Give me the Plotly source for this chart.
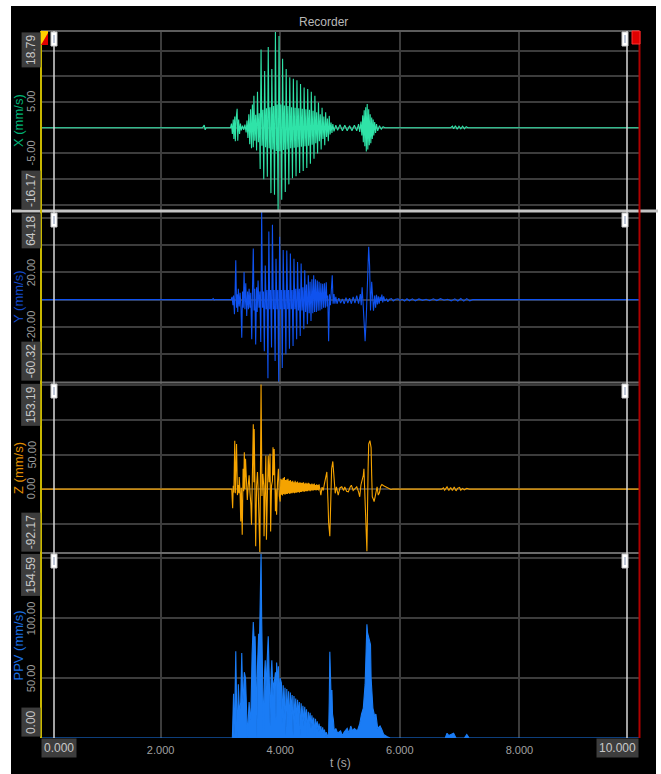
import plotly.graph_objects as go

# ---------------- data ----------------
TITLE = "Recorder"
T_TITLE = "t (s)"
CHANNEL_TITLES = ["X (mm/s)", "Y (mm/s)", "Z (mm/s)", "PPV (mm/s)"]
CHANNEL_RANGES = [[-16.17, 18.79], [-60.32, 64.18], [-92.17, 153.19], [0.0, 154.59]]
CHANNEL_DTICK = [5, 20, 50, 50]
CHANNEL_TICKVALS = [[5, -5], [20, -20], [50, 0], [100, 50]]
CHANNEL_TICKTEXT = [["5.00", "-5.00"], ["20.00", "-20.00"], ["50.00", "0.00"], ["100.00", "50.00"]]
CHANNEL_MAX_TEXT = ["18.79", "64.18", "153.19", "154.59"]
CHANNEL_MIN_TEXT = ["-16.17", "-60.32", "-92.17", "0.00"]
T_TICKVALS = [2, 4, 6, 8]
T_TICKTEXT = ["2.000", "4.000", "6.000", "8.000"]
T_START_TEXT = "0.000"
T_END_TEXT = "10.000"

# X channel velocity extremes: (time s, mm/s)
X_DATA = [
    (0.00, 0), (2.70, 0), (2.73, 0.5), (2.745, -0.4), (2.76, 0), (3.17, 0),
    (3.185, 0.8), (3.20, -1.2), (3.215, 1.6), (3.225, -2.2), (3.24, 2.2), (3.25, -2.6), (3.265, 2.0),
    (3.28, 3.7), (3.29, -2.5), (3.305, 1.6), (3.32, -1.2), (3.335, 0.8), (3.35, -0.5), (3.37, 0.4),
    (3.39, -0.4), (3.41, 0.6), (3.43, -0.9), (3.445, 1.4), (3.46, -2.0), (3.475, 2.6), (3.49, -3.2),
    (3.505, 3.6), (3.52, -4.0), (3.535, 4.5), (3.55, -3.8),
    (3.56, 6.2), (3.575, -2.5), (3.59, 2.5), (3.605, -4.4),
    (3.62, 7.0), (3.635, -2.8), (3.65, 2.8), (3.665, -8.0),
    (3.68, 15.2), (3.695, -3.5), (3.71, 3.5), (3.725, -10.0),
    (3.74, 11.0), (3.755, -3.8), (3.77, 3.8), (3.785, -9.5),
    (3.80, 15.7), (3.815, -4.0), (3.83, 4.0), (3.845, -12.7),
    (3.86, 11.4), (3.875, -4.2), (3.89, 4.2), (3.905, -13.0),
    (3.92, 18.7), (3.935, -4.5), (3.95, 4.5), (3.965, -16.1),
    (3.98, 17.8), (3.995, -4.5), (4.01, 4.5), (4.025, -14.0),
    (4.04, 13.4), (4.055, -4.3), (4.07, 4.3), (4.085, -12.5),
    (4.10, 11.4), (4.115, -4.2), (4.13, 4.2), (4.145, -11.0),
    (4.16, 9.8), (4.175, -4.0), (4.19, 4.0), (4.205, -9.8),
    (4.22, 9.5), (4.235, -3.9), (4.25, 3.9), (4.265, -9.4),
    (4.28, 9.2), (4.295, -3.8), (4.31, 3.8), (4.325, -8.8),
    (4.34, 8.5), (4.355, -3.7), (4.37, 3.7), (4.385, -8.4),
    (4.40, 7.8), (4.415, -3.6), (4.43, 3.6), (4.445, -7.8),
    (4.46, 7.5), (4.475, -3.5), (4.49, 3.5), (4.505, -7.0),
    (4.52, 7.0), (4.535, -3.3), (4.55, 3.3), (4.565, -6.0),
    (4.58, 6.2), (4.595, -3.0), (4.61, 3.0), (4.625, -5.0),
    (4.64, 4.9), (4.655, -2.6), (4.67, 2.6), (4.685, -4.2),
    (4.70, 3.9), (4.715, -2.2), (4.73, 2.2), (4.745, -3.4),
    (4.76, 3.0), (4.775, -1.8), (4.79, 1.8), (4.805, -2.6),
    (4.82, 2.3), (4.835, -1.3), (4.85, 1.0), (4.865, -1.0),
    (4.88, 0.7), (4.90, -0.7), (4.93, 0.5), (4.96, -0.5), (5.00, 0.6), (5.04, -0.6), (5.08, 0.5),
    (5.12, -0.6), (5.16, 0.4), (5.20, -0.6), (5.24, 0.5), (5.28, -0.6), (5.31, 0.7), (5.33, -0.8),
    (5.35, 1.2), (5.365, -1.5), (5.38, 2.4), (5.39, -2.8), (5.405, 3.4), (5.415, -3.6), (5.43, 4.0),
    (5.44, -4.6), (5.455, 4.6), (5.465, -4.2), (5.48, 3.6), (5.49, -3.4), (5.505, 2.6), (5.515, -3.0),
    (5.53, 2.0), (5.54, -2.2), (5.555, 1.6), (5.565, -1.5), (5.58, 1.1), (5.595, -1.0), (5.61, 0.7),
    (5.63, -0.6), (5.66, 0.4), (5.69, -0.3), (5.72, 0.2), (5.75, 0),
    (6.85, 0), (6.88, 0.3), (6.90, -0.2), (6.93, 0.4), (6.96, -0.3), (6.99, 0.3), (7.02, -0.2),
    (7.05, 0.3), (7.08, -0.2), (7.11, 0.2), (7.14, 0), (10.00, 0),
]

# Y channel
Y_DATA = [
    (0.00, 0), (2.86, 0), (2.88, 0.8), (2.895, -0.3), (2.91, 0), (3.18, 0),
    (3.195, 2), (3.21, -4), (3.22, 3), (3.235, -10.6), (3.245, 4), (3.257, 28.9), (3.27, -6),
    (3.28, 4), (3.29, -9), (3.30, 7.9), (3.315, -5), (3.33, 5), (3.345, -7), (3.357, -27.9),
    (3.37, 6), (3.383, -6), (3.396, 20.2), (3.41, -7), (3.424, 12), (3.44, -12), (3.455, 6),
    (3.47, -7), (3.48, 7.9), (3.495, -6), (3.507, 5), (3.524, -29.0), (3.537, 8), (3.55, 37.5),
    (3.563, -8), (3.575, 8), (3.59, -32.8), (3.605, 9), (3.615, -9),
    (3.63, 14), (3.645, -6), (3.66, 6), (3.675, -31),
    (3.69, 64.2), (3.705, -6), (3.72, 6), (3.735, -37.8),
    (3.75, 25), (3.765, -7), (3.78, 7), (3.795, -57.5),
    (3.81, 49.9), (3.825, -7), (3.84, 7), (3.855, -35),
    (3.87, 54.8), (3.885, -7), (3.90, 7), (3.915, -45),
    (3.93, 30), (3.945, -7), (3.96, 7), (3.975, -60.3),
    (3.99, 46), (4.005, -7), (4.02, 7), (4.035, -50),
    (4.05, 36.3), (4.065, -7), (4.08, 7), (4.095, -40),
    (4.11, 36), (4.125, -7), (4.14, 7), (4.155, -36),
    (4.17, 33.8), (4.185, -7), (4.20, 7), (4.215, -34),
    (4.23, 30), (4.245, -7), (4.26, 8), (4.275, -29),
    (4.29, 27.6), (4.305, -8), (4.32, 8), (4.335, -26.7),
    (4.35, 26.4), (4.365, -8), (4.38, 9), (4.395, -21.7),
    (4.41, 21.5), (4.425, -9), (4.44, 11), (4.455, -18),
    (4.47, 17.8), (4.485, -10), (4.50, 13), (4.515, -15.6),
    (4.53, 15), (4.545, -10), (4.56, 17.8), (4.575, -9), (4.59, 15), (4.605, -9), (4.62, 14),
    (4.635, -8.1), (4.65, 13), (4.665, -8), (4.68, 12), (4.695, -7), (4.71, 11.6), (4.725, -6),
    (4.74, 12), (4.755, -6), (4.77, 12.8), (4.785, -5), (4.795, 3), (4.81, -30.4), (4.825, 4),
    (4.84, -4), (4.87, 17.8), (4.885, -3), (4.90, 4), (4.915, -3), (4.93, 2), (4.95, -3),
    (4.98, 1), (5.01, -2.5), (5.04, 0.5), (5.07, -3), (5.10, 1.5), (5.13, -2.5), (5.16, 1),
    (5.19, -3), (5.22, 2), (5.25, -2.5), (5.28, 3), (5.31, -3), (5.34, 4), (5.355, -4),
    (5.37, 9.1), (5.39, -6), (5.40, -15), (5.42, -30.4), (5.44, -12), (5.46, 20), (5.48, 38.8),
    (5.495, 25), (5.51, -8), (5.53, 13), (5.545, -5), (5.56, -8.1), (5.58, 3), (5.595, -6),
    (5.61, 3.5), (5.625, -3.5), (5.64, 2.5), (5.655, -3), (5.67, 2), (5.685, -1), (5.70, 3.7),
    (5.715, -2), (5.73, 2.4), (5.75, -1), (5.78, 0.5), (5.80, -1.5), (5.83, 0.3), (5.86, 0.8),
    (5.89, -1.0), (5.93, 0.3), (5.97, 0.6), (6.00, -0.6), (6.04, 0.2), (6.08, -1.0), (6.12, 0.6),
    (6.16, -0.8), (6.21, 0.6), (6.26, -0.9), (6.32, 0.5), (6.38, -0.5), (6.44, 0.3), (6.50, -0.8),
    (6.56, 0.6), (6.62, -0.7), (6.68, 0.7), (6.74, -0.4), (6.80, 0.3), (6.86, -0.9), (6.92, 0.6),
    (6.97, -1.0), (7.02, 0.8), (7.07, -1.1), (7.12, 0.7), (7.17, -0.9), (7.22, 0), (10.00, 0),
]

# Z channel
Z_DATA = [
    (0.00, 0), (3.19, 0), (3.205, -27.6), (3.215, 5), (3.225, -5), (3.24, 70), (3.25, -6), (3.27, 65),
    (3.285, -8.6), (3.30, 6), (3.31, -6), (3.315, 17.6), (3.33, -8), (3.34, -46.7), (3.35, 2),
    (3.365, -65.7), (3.38, 29.5), (3.39, -3), (3.40, 53.3), (3.41, 0), (3.42, 43.8), (3.435, -5),
    (3.45, -15.7), (3.465, 5), (3.48, 20), (3.495, -5), (3.51, -23), (3.52, -51.4), (3.535, 5),
    (3.55, 93.8), (3.56, 10), (3.565, 86.7), (3.58, -10), (3.59, -82.4), (3.605, 5), (3.62, 24.8),
    (3.635, -10), (3.65, -84.8), (3.66, -92.0), (3.68, 151), (3.695, -10), (3.71, 22), (3.725, 5),
    (3.73, -68), (3.745, 10), (3.76, 48.6), (3.77, -72.9), (3.785, 5), (3.80, 48.6), (3.815, 10),
    (3.83, 51), (3.84, -61), (3.855, 5), (3.87, 12), (3.88, 60.5), (3.89, 20), (3.90, 58),
    (3.915, -5), (3.92, -32), (3.93, 0), (3.94, -37), (3.955, 10), (3.97, 29.5), (3.985, -10),
    (4.00, -18), (4.01, 15), (4.02, -8), (4.03, 14), (4.04, -9), (4.05, 16), (4.06, -7),
    (4.07, 17.6), (4.08, -8), (4.09, 13), (4.10, -7), (4.11, 14), (4.12, -7), (4.13, 15),
    (4.14, -6), (4.15, 12), (4.16, -7), (4.17, 13), (4.18, -6), (4.19, 11), (4.20, -6),
    (4.21, 12), (4.22, -5), (4.23, 10), (4.24, -6), (4.25, 12), (4.26, -5), (4.27, 10),
    (4.28, -5), (4.29, 11), (4.30, -4), (4.31, 9), (4.32, -5), (4.33, 10), (4.34, -4),
    (4.35, 9), (4.36, -4), (4.37, 9), (4.38, -3), (4.39, 10), (4.40, -4), (4.41, 8),
    (4.42, -3), (4.43, 9), (4.44, -3), (4.45, 8), (4.46, -3), (4.47, 9), (4.48, -2),
    (4.49, 8), (4.50, -3), (4.51, 7), (4.52, -2), (4.53, 8), (4.54, -2), (4.55, 7),
    (4.56, -2), (4.57, 8), (4.58, -1), (4.59, 6), (4.60, -2), (4.61, 7), (4.62, -1),
    (4.63, 6), (4.64, -2), (4.65, 7), (4.66, -1), (4.68, -8.6), (4.70, 3), (4.72, -2),
    (4.74, 8), (4.76, 15), (4.78, 24.8), (4.80, -20), (4.81, -49), (4.83, -68), (4.85, 20),
    (4.86, 29.5), (4.88, 40), (4.90, 17.6), (4.92, -6), (4.94, 3.3), (4.97, -8.6), (5.00, 2),
    (5.03, 3.3), (5.06, -2), (5.08, 3.3), (5.11, -3), (5.14, -3.8), (5.17, 3), (5.19, 5.7),
    (5.22, -2), (5.25, 1), (5.28, 3.3), (5.31, -4), (5.33, -11), (5.35, 6), (5.37, 12.9),
    (5.39, 20), (5.40, 29.5), (5.42, -20), (5.43, -49), (5.45, -89.5), (5.47, 30), (5.48, 65),
    (5.50, 70), (5.52, 60), (5.53, 20), (5.54, -11), (5.56, -15), (5.57, -18), (5.59, -10),
    (5.60, -6), (5.62, 3.3), (5.64, -8.6), (5.66, -5), (5.68, 4), (5.70, 6.7), (5.73, 5),
    (5.76, 3.3), (5.79, 2), (5.82, 1), (5.85, -0.5), (5.88, 0), (6.70, 0), (6.73, 2),
    (6.75, -1.5), (6.79, 3.3), (6.82, -2), (6.85, 2.5), (6.88, -2), (6.91, 3), (6.94, -2.5),
    (6.97, 1.5), (7.00, 2.5), (7.02, -1.5), (7.05, 1), (7.08, -1), (7.12, 1), (7.16, 0),
    (10.00, 0),
]

# PPV channel (vector peak, >= 0): (time s, mm/s)
PPV_DATA = [
    (0.00, 0), (3.20, 0), (3.22, 36.9), (3.228, 2), (3.24, 20), (3.257, 72.4), (3.27, 30), (3.283, 0),
    (3.30, 45), (3.32, 20), (3.34, 30), (3.357, 71), (3.37, 40), (3.38, 30), (3.40, 55), (3.42, 50),
    (3.44, 20), (3.45, 0), (3.47, 20), (3.48, 30), (3.50, 15), (3.51, 20), (3.53, 70), (3.55, 97),
    (3.57, 75), (3.58, 85), (3.60, 40), (3.61, 0), (3.62, 60), (3.64, 87), (3.65, 70), (3.66, 91.5),
    (3.68, 154.5), (3.69, 100), (3.70, 75), (3.72, 5), (3.74, 55), (3.75, 65), (3.76, 40), (3.77, 55),
    (3.79, 70), (3.80, 85), (3.82, 45), (3.83, 10), (3.85, 55), (3.86, 65), (3.88, 35), (3.89, 45),
    (3.91, 50), (3.92, 55), (3.93, 15), (3.94, 63), (3.96, 45), (3.97, 60), (3.99, 30), (4.00, 50),
    (4.02, 46), (4.035, 12), (4.05, 44), (4.065, 20), (4.08, 42), (4.095, 2), (4.11, 41), (4.125, 18),
    (4.14, 39), (4.155, 10), (4.17, 38), (4.185, 22), (4.20, 36), (4.215, 2), (4.23, 35), (4.245, 18),
    (4.26, 33), (4.275, 12), (4.29, 32), (4.305, 20), (4.32, 30), (4.335, 2), (4.35, 29), (4.365, 15),
    (4.38, 27), (4.395, 10), (4.41, 26), (4.425, 14), (4.44, 24), (4.455, 2), (4.47, 22), (4.485, 12),
    (4.50, 21), (4.515, 8), (4.53, 19), (4.545, 10), (4.56, 17), (4.575, 2), (4.59, 16), (4.605, 8),
    (4.62, 14), (4.635, 5), (4.65, 12), (4.665, 6), (4.68, 10), (4.695, 2), (4.71, 9), (4.725, 4),
    (4.74, 7), (4.755, 2), (4.77, 5), (4.785, 1), (4.80, 3), (4.81, 5), (4.82, 30), (4.83, 72),
    (4.845, 45), (4.855, 25), (4.865, 40), (4.875, 20), (4.89, 15), (4.905, 5), (4.93, 8), (4.96, 4),
    (5.01, 6), (5.04, 2), (5.07, 5), (5.12, 8), (5.15, 4), (5.18, 10), (5.21, 6), (5.24, 8),
    (5.29, 6), (5.33, 12), (5.36, 20), (5.39, 25), (5.42, 45), (5.45, 95), (5.46, 88), (5.49, 80),
    (5.51, 78), (5.52, 50), (5.55, 25), (5.58, 18), (5.60, 20), (5.63, 8), (5.67, 10), (5.70, 7),
    (5.73, 3), (5.79, 1), (5.84, 0), (6.76, 0), (6.79, 4), (6.82, 2), (6.86, 3), (6.90, 4),
    (6.94, 0), (7.08, 0), (7.12, 3), (7.16, 0), (10.00, 0),
]

# ---------------- styling ----------------
FONT = "Liberation Sans"
LINE_COLORS = ["#2fe3a8", "#0f52ee", "#f5a300", "#1a7cf5"]
TITLE_COLORS = ["#00b377", "#1248c8", "#e08e00", "#1a6ee0"]
GRID = "#3c3c3c"
W, H = 661, 774
ML, MR, MT, MB = 41, 22, 31, 36
PW, PH = W - ML - MR, H - MT - MB


def px_x(p):
    return (p - ML) / PW


def px_y(p):
    return (H - MB - p) / PH


# panel pixel bounds (top, bottom)
PANELS = [(31, 211), (212, 382), (383, 553), (553, 738)]
DOMAINS = [[px_y(b), px_y(t)] for t, b in PANELS]

fig = go.Figure()
axis_names = ["y", "y2", "y3", "y4"]
for i, data in enumerate([X_DATA, Y_DATA, Z_DATA]):
    fig.add_trace(go.Scatter(x=[p[0] for p in data], y=[p[1] for p in data], mode="lines",
                             yaxis=axis_names[i], xaxis="x",
                             line=dict(color=LINE_COLORS[i], width=1.1), hoverinfo="skip",
                             showlegend=False))
fig.add_trace(go.Scatter(x=[p[0] for p in PPV_DATA], y=[p[1] for p in PPV_DATA], mode="lines",
                         yaxis="y4", xaxis="x", fill="tozeroy", fillcolor=LINE_COLORS[3],
                         line=dict(color=LINE_COLORS[3], width=1.1), hoverinfo="skip",
                         showlegend=False))

layout = dict(
    width=W, height=H,
    margin=dict(l=ML, r=MR, t=MT, b=MB),
    paper_bgcolor="white", plot_bgcolor="black",
    font=dict(family=FONT, color="#b0b0b0", size=11),
    showlegend=False,
    xaxis=dict(range=[0, 10], anchor="y4", domain=[0, 1], showgrid=True, gridcolor=GRID, gridwidth=1.5,
               tickvals=T_TICKVALS, ticktext=T_TICKTEXT, zeroline=False, showline=False,
               tickfont=dict(color="#a0a0a0", size=11, family=FONT), ticks="", ticklabelstandoff=4),
)
for i in range(4):
    key = "yaxis" if i == 0 else "yaxis%d" % (i + 1)
    layout[key] = dict(domain=DOMAINS[i], range=CHANNEL_RANGES[i], anchor="x", dtick=CHANNEL_DTICK[i],
                       tick0=0, showgrid=True, gridcolor=GRID, gridwidth=1.5, zeroline=False,
                       showticklabels=False, showline=False, fixedrange=True)
fig.update_layout(**layout)

shapes = []
# black recorder background
shapes.append(dict(type="rect", xref="paper", yref="paper", x0=px_x(11), x1=px_x(656), y0=px_y(774), y1=px_y(6),
                   fillcolor="black", line=dict(width=0), layer="below"))
# panel separators
shapes.append(dict(type="line", xref="paper", yref="paper", x0=0, x1=1, y0=px_y(31), y1=px_y(31),
                   line=dict(color="#5c5c5c", width=2)))
for yy in (382.5, 553):
    shapes.append(dict(type="line", xref="paper", yref="paper", x0=0, x1=1, y0=px_y(yy), y1=px_y(yy),
                       line=dict(color="#6a6a6a", width=2)))
shapes.append(dict(type="line", xref="paper", yref="paper", x0=px_x(12), x1=px_x(658), y0=px_y(211), y1=px_y(211),
                   line=dict(color="#c4c4c4", width=3)))
# left (yellow) and right (red) borders
shapes.append(dict(type="line", xref="paper", yref="paper", x0=0, x1=0, y0=0, y1=1,
                   line=dict(color="#c9b800", width=2)))
shapes.append(dict(type="line", xref="paper", yref="paper", x0=px_x(639.5), x1=px_x(639.5), y0=0, y1=1,
                   line=dict(color="#b00000", width=2)))
# cursor lines
for cx in (54, 627):
    shapes.append(dict(type="line", xref="paper", yref="paper", x0=px_x(cx), x1=px_x(cx), y0=0, y1=1,
                       line=dict(color="#d8d8d8", width=1.5)))
# cursor handles at top of each panel
for top, _ in PANELS:
    for hx in (54, 625):
        shapes.append(dict(type="rect", xref="paper", yref="paper", x0=px_x(hx - 3), x1=px_x(hx + 3),
                           y0=px_y(top + 15), y1=px_y(top + 1), fillcolor="white",
                           line=dict(color="#c8c8c8", width=1)))
        shapes.append(dict(type="line", xref="paper", yref="paper", x0=px_x(hx), x1=px_x(hx),
                           y0=px_y(top + 12), y1=px_y(top + 4), line=dict(color="#8090b0", width=1)))
# top-left flag and top-right end marker
shapes.append(dict(type="rect", xref="paper", yref="paper", x0=px_x(41), x1=px_x(48), y0=px_y(45), y1=px_y(31),
                   fillcolor="#ffd000", line=dict(width=0)))
shapes.append(dict(type="path", xref="paper", yref="paper",
                   path="M %f,%f L %f,%f L %f,%f Z" % (px_x(41), px_y(45), px_x(48), px_y(45), px_x(48), px_y(33)),
                   fillcolor="#e00000", line=dict(width=0)))
shapes.append(dict(type="rect", xref="paper", yref="paper", x0=px_x(632), x1=px_x(640), y0=px_y(44), y1=px_y(31),
                   fillcolor="#e00000", line=dict(color="#ff3030", width=1)))
fig.update_layout(shapes=shapes)

ann = []
ann.append(dict(text=TITLE, xref="paper", yref="paper", x=px_x(323), y=px_y(22), showarrow=False,
                font=dict(size=12, color="#b8b8b8", family=FONT), xanchor="center", yanchor="middle"))
ann.append(dict(text=T_TITLE, xref="paper", yref="paper", x=px_x(340), y=px_y(763), showarrow=False,
                font=dict(size=12, color="#a8a8a8", family=FONT), xanchor="center", yanchor="middle"))
box = dict(showarrow=False, bgcolor="#3d3d3d", borderpad=2, font=dict(size=12, color="#c8c8c8", family=FONT))
ann.append(dict(text=T_START_TEXT, xref="x", yref="paper", x=0, y=px_y(748), xanchor="left", yanchor="middle", **box))
ann.append(dict(text=T_END_TEXT, xref="x", yref="paper", x=10, y=px_y(748), xanchor="right", yanchor="middle", **box))
for i in range(4):
    yname = axis_names[i]
    ann.append(dict(text=CHANNEL_TITLES[i], xref="paper", yref=yname + " domain", x=px_x(18), y=0.5,
                    textangle=-90, showarrow=False, xanchor="center", yanchor="middle",
                    font=dict(size=13, color=TITLE_COLORS[i], family=FONT)))
    for v, t in zip(CHANNEL_TICKVALS[i], CHANNEL_TICKTEXT[i]):
        ann.append(dict(text=t, xref="paper", yref=yname, x=px_x(31), y=v, textangle=-90, showarrow=False,
                        xanchor="center", yanchor="middle", font=dict(size=11, color="#9a9a9a", family=FONT)))
    ann.append(dict(text=CHANNEL_MAX_TEXT[i], xref="paper", yref=yname + " domain", x=px_x(31), y=0.995,
                    textangle=-90, xanchor="center", yanchor="top", **box))
    ann.append(dict(text=CHANNEL_MIN_TEXT[i], xref="paper", yref=yname + " domain", x=px_x(31), y=0.005,
                    textangle=-90, xanchor="center", yanchor="bottom", **box))
fig.update_layout(annotations=ann)

fig.write_html("out.html")
